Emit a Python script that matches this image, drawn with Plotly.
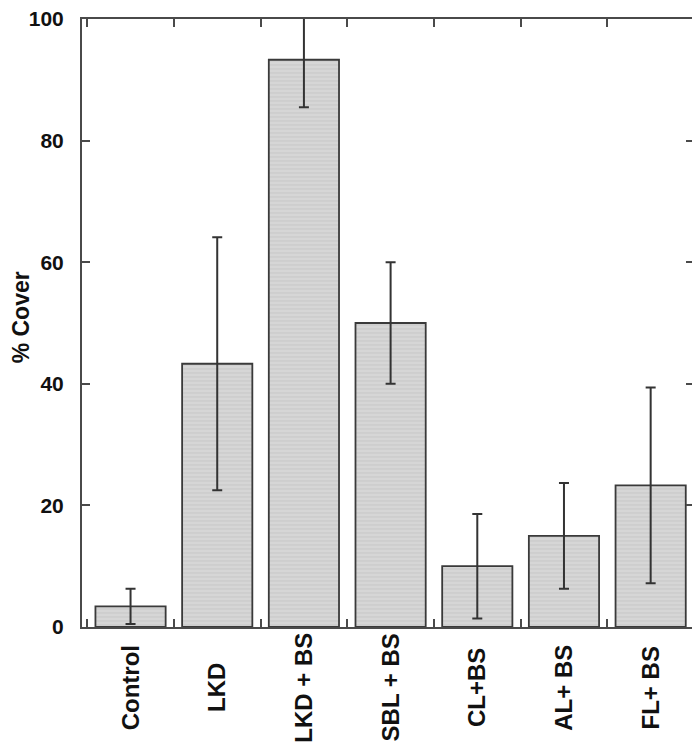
import plotly.graph_objects as go

categories = ["Control", "LKD", "LKD + BS", "SBL + BS", "CL+BS", "AL+ BS", "FL+ BS"]
cover = [3.4, 43.3, 93.3, 50.0, 10.0, 15.0, 23.3]
cover_err = [2.9, 20.8, 7.8, 10.0, 8.6, 8.7, 16.1]
y_ticks = [0, 20, 40, 60, 80, 100]

axis_col = "#4a4a4a"
font_fam = "Liberation Sans, Arial, sans-serif"

bars = go.Bar(
    x=categories,
    y=cover,
    width=0.81,
    marker=dict(
        color="#d4d4d4",
        line=dict(color="#3a3a3a", width=1.8),
        pattern=dict(shape="-", size=4, solidity=0.3, fgcolor="#bdbdbd", bgcolor="#d6d6d6"),
    ),
    error_y=dict(type="data", array=cover_err, color="#333333", thickness=2, width=5),
    showlegend=False,
)

fig = go.Figure(data=[bars])

# page body has an 8px margin, so the figure is a bit smaller than the window
fig.update_layout(
    width=692,
    height=737,
    margin=dict(l=74, r=6, t=11, b=118),
    plot_bgcolor="white",
    paper_bgcolor="white",
    font=dict(family=font_fam, color="#111111"),
    bargap=0.19,
)

# category labels centred under each bar (rotated)
for cat in categories:
    fig.add_annotation(
        x=cat, y=-0.1, xref="x", yref="paper",
        text=cat, textangle=-90, showarrow=False,
        xanchor="center", yanchor="middle",
        font=dict(size=24, weight="bold", family=font_fam),
    )

# y axis title
fig.add_annotation(
    x=-0.099, y=0.51, xref="paper", yref="paper",
    text="% Cover", textangle=-90, showarrow=False,
    xanchor="center", yanchor="middle",
    font=dict(size=23, weight="bold", family=font_fam),
)

fig.update_xaxes(
    range=[-0.56, 6.5],
    automargin=False,
    tickson="boundaries",
    ticks="inside",
    ticklen=8,
    tickwidth=2,
    tickcolor=axis_col,
    showline=True,
    linecolor=axis_col,
    linewidth=2,
    mirror="ticks",
    showgrid=False,
    showticklabels=False,
)
fig.update_yaxes(
    range=[0, 100],
    automargin=False,
    tickvals=y_ticks,
    ticks="inside",
    ticklen=8,
    tickwidth=2,
    tickcolor=axis_col,
    showline=True,
    linecolor=axis_col,
    linewidth=2,
    mirror="ticks",
    showgrid=False,
    zeroline=False,
    tickfont=dict(size=21, weight="bold", family=font_fam),
    ticklabelstandoff=12,
    ticklabeloverflow="allow",
)

fig.write_html("out.html")
